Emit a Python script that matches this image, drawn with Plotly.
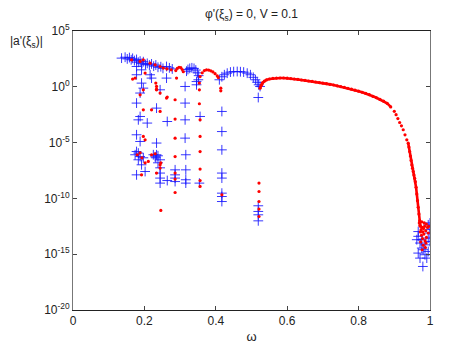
import plotly.graph_objects as go

# ---- main red curve (omega, log10 |a'|) ----
curve_omega = [0.524, 0.527, 0.531, 0.536, 0.542, 0.55, 0.56, 0.57, 0.58, 0.59,
               0.60, 0.61, 0.62, 0.63, 0.64, 0.65, 0.66, 0.67, 0.68, 0.69, 0.70,
               0.71, 0.72, 0.73, 0.74, 0.75, 0.76, 0.77, 0.78, 0.79, 0.80, 0.81,
               0.82, 0.83, 0.84, 0.85, 0.86, 0.87, 0.88, 0.89, 0.90, 0.905, 0.91,
               0.915, 0.92, 0.925, 0.93, 0.935, 0.939, 0.941, 0.943, 0.945, 0.947,
               0.949, 0.951, 0.953, 0.955, 0.957, 0.959, 0.961, 0.963, 0.965,
               0.967, 0.969, 0.971, 0.973]
curve_log = [-0.12, 0.15, 0.35, 0.50, 0.62, 0.70, 0.75, 0.78, 0.79, 0.79,
             0.77, 0.74, 0.70, 0.66, 0.61, 0.57, 0.52, 0.48, 0.43, 0.38, 0.33,
             0.28, 0.22, 0.16, 0.09, 0.02, -0.05, -0.13, -0.21, -0.30, -0.39, -0.49,
             -0.59, -0.71, -0.85, -0.98, -1.13, -1.28, -1.48, -1.80, -2.20, -2.50, -2.85,
             -3.20, -3.50, -3.85, -4.30, -4.75, -5.05, -5.40, -5.80, -6.20, -6.60,
             -7.00, -7.30, -7.60, -7.90, -8.20, -8.50, -9.00, -9.60, -10.20,
             -10.80, -11.40, -12.00, -12.50]

# ---- red lobe arcs and scattered red points ----
red_omega = [0.356, 0.362, 0.368, 0.374, 0.380, 0.386, 0.392, 0.398, 0.404, 0.407,
             0.288, 0.292, 0.297, 0.302, 0.306, 0.309,
             0.164, 0.188, 0.197, 0.216, 0.230, 0.244, 0.253, 0.263, 0.275,
             0.174, 0.202, 0.234, 0.234, 0.262, 0.290, 0.167,
             0.197, 0.188, 0.197, 0.197, 0.202, 0.180, 0.188, 0.193, 0.192, 0.211, 0.202,
             0.232, 0.234, 0.244, 0.220, 0.244, 0.220, 0.230, 0.244, 0.244, 0.234, 0.246, 0.246,
             0.264, 0.286, 0.286, 0.286, 0.286, 0.286, 0.286, 0.286,
             0.354, 0.354, 0.354, 0.356, 0.356, 0.356, 0.356, 0.356, 0.356,
             0.414, 0.414, 0.417,
             0.521, 0.521, 0.521, 0.521, 0.521,
             0.970, 0.972, 0.973, 0.974, 0.975, 0.976, 0.977, 0.978, 0.978, 0.979, 0.980,
             0.981, 0.982, 0.983, 0.984, 0.985, 0.986, 0.987, 0.988, 0.989, 0.990, 0.990,
             0.993, 0.995, 0.996]
red_log = [0.92, 1.25, 1.45, 1.52, 1.50, 1.43, 1.33, 1.18, 0.98, 0.83,
           1.45, 1.65, 1.75, 1.72, 1.55, 1.35,
           2.42, 2.27, 2.42, 2.12, 1.97, 1.82, 1.68, 1.60, 1.52,
           0.78, 1.23, 0.03, -0.27, -1.01, 0.78, 0.69,
           -0.27, -0.72, -2.06, -4.45, -4.75, -6.09, -5.91, -6.36, -7.89, -6.69, -6.81,
           0.33, -0.21, -0.56, -2.06, -2.21, -6.09, -6.00, -6.99, -7.28, -7.73, -6.81, -11.08,
           -0.92, -1.16, -2.89, -4.60, -6.25, -7.73, -8.27, -9.47,
           0.33, -0.27, -1.52, -2.96, -4.45, -5.80, -7.37, -8.40, -8.93,
           -0.12, -0.36, -9.68,
           -8.63, -9.38, -10.28, -10.96, -11.62,
           -12.2, -12.4, -13.0, -13.9, -12.8, -13.3, -12.1, -12.6, -14.6, -13.6, -13.0,
           -14.2, -12.7, -13.2, -12.2, -12.5, -13.8, -14.4, -12.9, -14.0, -12.3, -13.5,
           -12.6, -13.1, -12.5]

# ---- blue crosses ----
blue_omega = [0.136, 0.146, 0.152, 0.158, 0.163, 0.167, 0.172, 0.178, 0.183, 0.188,
              0.193, 0.197, 0.203, 0.208, 0.214, 0.220, 0.226, 0.232, 0.238, 0.246,
              0.252, 0.262, 0.270, 0.278,
              0.318, 0.322, 0.327, 0.333, 0.339, 0.344, 0.349, 0.352,
              0.410, 0.417, 0.424, 0.432, 0.441, 0.450, 0.460, 0.469, 0.478, 0.488,
              0.497, 0.505, 0.511, 0.516, 0.520, 0.524,
              0.178, 0.192, 0.216, 0.220, 0.197, 0.262, 0.314, 0.351,
              0.178, 0.192, 0.188, 0.178, 0.188, 0.183, 0.208, 0.178, 0.188, 0.178,
              0.183, 0.174, 0.188, 0.197, 0.183, 0.192, 0.178, 0.202,
              0.234, 0.244, 0.234, 0.234, 0.225, 0.230, 0.238, 0.232, 0.244, 0.238,
              0.244, 0.244, 0.244, 0.244, 0.264, 0.264,
              0.286, 0.286, 0.286, 0.286,
              0.314, 0.314, 0.314, 0.316, 0.316, 0.316, 0.316,
              0.356, 0.354, 0.346, 0.346,
              0.417, 0.417, 0.417, 0.417, 0.417, 0.417, 0.417, 0.417,
              0.519, 0.519, 0.519, 0.519, 0.519,
              0.995, 1.000, 0.967, 0.972, 0.977, 0.981, 0.986, 1.000, 0.995, 1.000,
              0.972, 0.980, 0.986, 0.991, 0.967, 1.000, 0.963, 0.967, 0.995, 0.977]
blue_log = [2.57, 2.65, 2.50, 2.62, 2.42, 2.55, 2.35, 2.45, 2.20, 2.30,
            2.10, 2.25, 2.00, 2.10, 1.95, 2.05, 1.85, 1.95, 1.75, 1.80,
            1.65, 1.82, 1.70, 1.60,
            1.40, 1.55, 1.65, 1.70, 1.65, 1.50, 1.25, 1.00,
            0.63, 0.90, 1.08, 1.22, 1.32, 1.36, 1.37, 1.35, 1.32, 1.22,
            1.08, 0.85, 0.63, 0.40, 0.18, 0.03,
            1.82, 1.52, 1.08, 0.78, -0.12, 0.78, 0.03, 0.63,
            1.08, 0.33, -0.56, -1.46, -2.66, -2.96, -3.25, -4.30, -4.90, -5.80,
            -5.94, -6.09, -6.25, -6.36, -6.54, -6.99, -7.89, -7.59,
            -1.91, -0.27, -5.04, -6.09, -6.09, -6.27, -6.18, -6.36, -6.54, -6.81,
            -7.26, -7.73, -8.18, -8.63, -8.40, -3.11,
            -7.44, -7.89, -8.18, -8.49,
            -1.46, -2.96, -4.60, -6.09, -7.44, -8.33, -8.63,
            -2.66, -8.63, 0.47, 0.18,
            -2.21, -4.01, -5.65, -7.73, -8.18, -9.53, -9.83, -10.28,
            -0.96, -10.66, -11.17, -11.47, -12.01,
            -12.37, -12.2, -12.97, -14.0, -14.45, -14.6, -14.16, -13.86, -13.56, -13.1,
            -15.35, -16.1, -15.05, -15.35, -14.9, -12.8, -13.7, -13.4, -14.76, -13.7]

x_ticks = [0, 0.2, 0.4, 0.6, 0.8, 1]
x_tick_text = ["0", "0.2", "0.4", "0.6", "0.8", "1"]
y_tick_exp = [-20, -15, -10, -5, 0, 5]
y_tick_text = ["10<sup>%d</sup>" % e for e in y_tick_exp]

font = "Liberation Sans, Arial, sans-serif"
RED = "#ff0000"

# split the main curve: dense (continuous-looking) parts and sparse steep part
smooth_a = [i for i, w in enumerate(curve_omega) if w <= 0.89]
sparse = [i for i, w in enumerate(curve_omega) if 0.89 < w < 0.939]
smooth_b = [i for i, w in enumerate(curve_omega) if w >= 0.939]

fig = go.Figure()
fig.add_trace(go.Scatter(
    x=blue_omega, y=[10 ** v for v in blue_log], mode="markers",
    marker=dict(symbol="cross-thin", size=7, color="rgba(0,0,0,0)",
                line=dict(color="rgba(20,20,255,0.85)", width=1)),
    showlegend=False))
fig.add_trace(go.Scatter(
    x=red_omega, y=[10 ** v for v in red_log], mode="markers",
    marker=dict(symbol="circle", size=3.2, color=RED, line=dict(width=0)),
    showlegend=False))
for idx, mode in ((smooth_a, "lines+markers"), (sparse, "markers"), (smooth_b, "lines+markers")):
    fig.add_trace(go.Scatter(
        x=[curve_omega[i] for i in idx], y=[10 ** curve_log[i] for i in idx],
        mode=mode, line=dict(color=RED, width=2.6),
        marker=dict(symbol="circle", size=3.2, color=RED, line=dict(width=0)),
        showlegend=False))

# page body has an 8px default margin, so the figure is sized to fit the window
fig.update_layout(
    width=452, height=338,
    margin=dict(l=65, r=30, t=23, b=36),
    paper_bgcolor="white", plot_bgcolor="white",
    font=dict(family=font, size=12, color="#222"),
    title=dict(text="φ'(ξ<sub>s</sub>) = 0, V = 0.1", x=0.5, xref="paper",
               xanchor="center", y=0.982, yanchor="middle",
               font=dict(size=12, family=font, color="#222")),
    showlegend=False,
)
fig.update_xaxes(
    range=[0, 1], tickvals=x_ticks, ticktext=x_tick_text, automargin=False,
    ticks="inside", ticklen=4, tickcolor="#444", showgrid=False, zeroline=False,
    showline=True, linecolor="#222", linewidth=1, mirror="ticks",
    title=dict(text="ω", standoff=4, font=dict(size=13)),
    tickfont=dict(size=12),
)
fig.update_yaxes(
    type="log", range=[-20, 5], tickvals=[10 ** e for e in y_tick_exp],
    ticktext=y_tick_text, automargin=False,
    ticks="inside", ticklen=4, tickcolor="#444",
    showgrid=False, zeroline=False, showline=True, linecolor="#777", linewidth=1,
    mirror="ticks", tickfont=dict(size=12),
)
fig.add_annotation(text="|a'(ξ<sub>s</sub>)|", xref="paper", yref="paper",
                   x=-0.182, y=0.96, xanchor="left", yanchor="middle",
                   showarrow=False, font=dict(size=12, family=font, color="#222"))

fig.write_html("out.html")
